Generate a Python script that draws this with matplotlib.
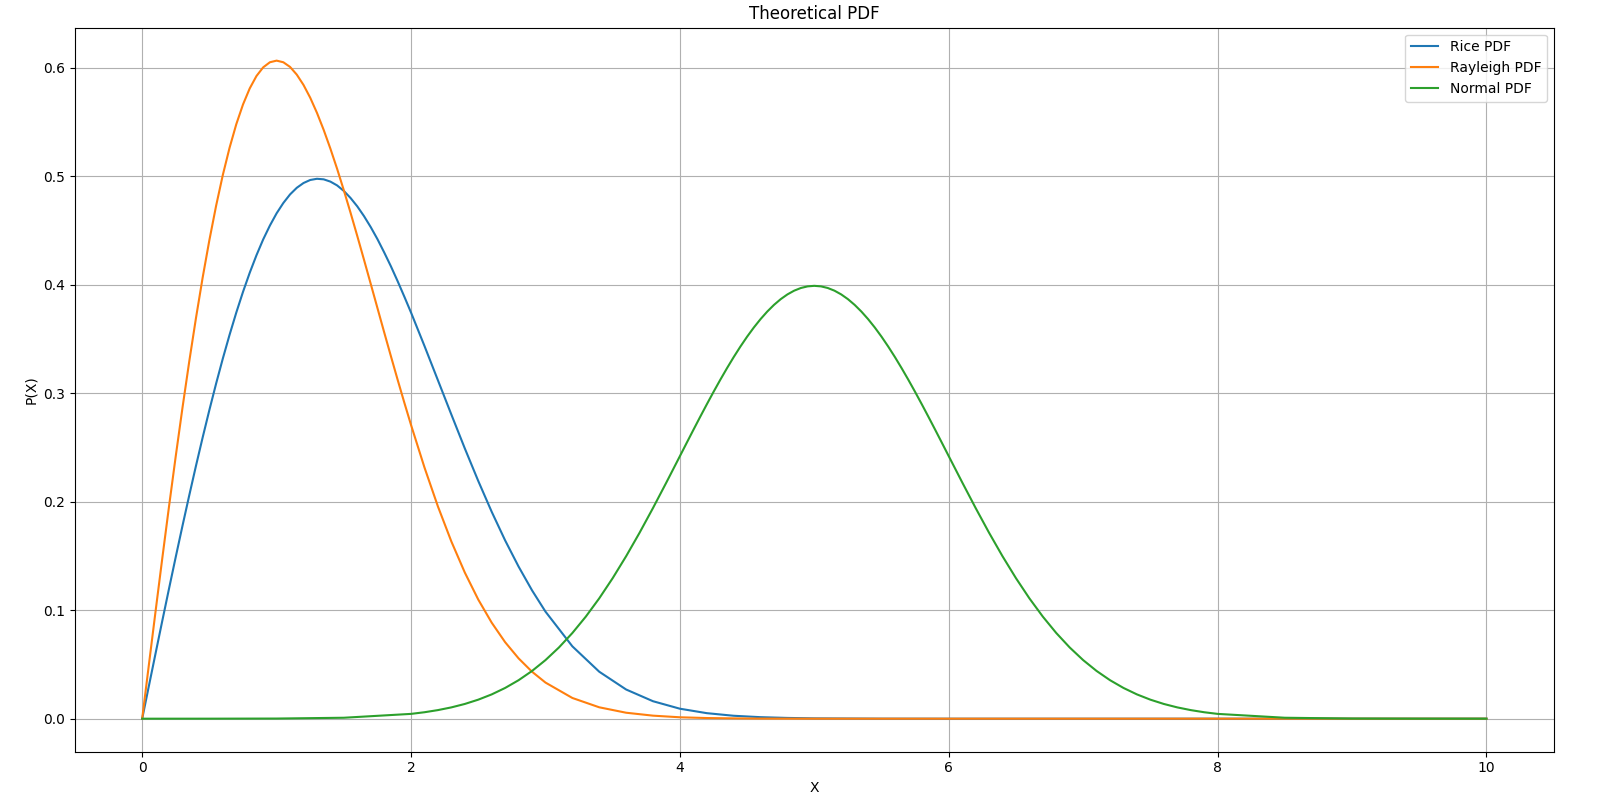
import numpy as np
import matplotlib
matplotlib.use('Agg')
import matplotlib.pyplot as plt

# sampled x positions for the Rice / Rayleigh curves
x_rr = ([round(0.05 * i, 2) for i in range(41)]
        + [2.1, 2.2, 2.3, 2.4, 2.5, 2.6, 2.7, 2.8, 2.9, 3.0,
           3.2, 3.4, 3.6, 3.8, 4.0, 4.2, 4.4, 4.6, 4.8, 5.0,
           5.5, 6.0, 7.0, 8.0, 9.0, 10.0])

rice_pdf = [0.0, 0.0303, 0.0605, 0.0905, 0.1201, 0.1493, 0.1779, 0.2058, 0.2330, 0.2593,
            0.2846, 0.3089, 0.3320, 0.3538, 0.3743, 0.3934, 0.4110, 0.4271, 0.4417, 0.4545,
            0.4658, 0.4753, 0.4832, 0.4893, 0.4937, 0.4965, 0.4976, 0.4971, 0.4950, 0.4915,
            0.4864, 0.4799, 0.4722, 0.4632, 0.4531, 0.4420, 0.4298, 0.4170, 0.4033, 0.3890,
            0.3743,
            0.3435, 0.3119, 0.2803, 0.2491, 0.2191, 0.1907, 0.1643, 0.1402, 0.1183, 0.0987,
            0.0667, 0.0433, 0.0269, 0.0161, 0.0092, 0.0051, 0.0027, 0.0014, 0.0007, 0.0003,
            0.00004, 0.0, 0.0, 0.0, 0.0, 0.0]

rayleigh_pdf = [0.0, 0.0499, 0.0995, 0.1483, 0.1960, 0.2423, 0.2868, 0.3292, 0.3692, 0.4067,
                0.4412, 0.4728, 0.5012, 0.5262, 0.5479, 0.5661, 0.5809, 0.5923, 0.6003, 0.6050,
                0.6065, 0.6050, 0.6007, 0.5936, 0.5841, 0.5723, 0.5584, 0.5427, 0.5254, 0.5068,
                0.4870, 0.4663, 0.4449, 0.4230, 0.4008, 0.3785, 0.3562, 0.3342, 0.3125, 0.2913,
                0.2707,
                0.2315, 0.1956, 0.1633, 0.1347, 0.1098, 0.0885, 0.0705, 0.0556, 0.0433, 0.0333,
                0.0191, 0.0105, 0.0055, 0.0028, 0.0013, 0.0006, 0.0003, 0.0001, 0.00005, 0.00002,
                0.0, 0.0, 0.0, 0.0, 0.0, 0.0]

# sampled x positions for the normal curve
x_norm = ([0.0, 0.5, 1.0, 1.5]
          + [round(2.0 + 0.1 * i, 1) for i in range(20)]
          + [round(4.0 + 0.05 * i, 2) for i in range(41)]
          + [round(6.1 + 0.1 * i, 1) for i in range(20)]
          + [8.5, 9.0, 9.5, 10.0])

normal_tail = [0.00443, 0.00595, 0.00792, 0.01042, 0.01358, 0.01753, 0.02239, 0.02833, 0.03547, 0.04398,
               0.05399, 0.06562, 0.07895, 0.09405, 0.11092, 0.12952, 0.14973, 0.17137, 0.19419, 0.21785]
normal_core = [0.24197, 0.25406, 0.26609, 0.27799, 0.28969, 0.30114, 0.31225, 0.32296, 0.33322, 0.34294,
               0.35207, 0.36053, 0.36827, 0.37524, 0.38139, 0.38667, 0.39104, 0.39448, 0.39695, 0.39844]
normal_pdf = ([0.0, 0.00002, 0.00013, 0.00087] + normal_tail + normal_core + [0.39894]
              + normal_core[::-1] + normal_tail[::-1] + [0.00087, 0.00013, 0.00002, 0.0])

fig, ax = plt.subplots(figsize=(16.09, 8.06), dpi=100)
fig.subplots_adjust(left=0.0466, right=0.9656, top=0.9656, bottom=0.0675)

ax.plot(x_rr, rice_pdf, label='Rice PDF')
ax.plot(x_rr, rayleigh_pdf, label='Rayleigh PDF')
ax.plot(x_norm, normal_pdf, label='Normal PDF')

ax.set_title('Theoretical PDF')
ax.set_xlabel('X')
ax.set_ylabel('P(X)')
ax.legend(loc='upper right')
ax.grid(True)

plt.savefig('out.png', dpi=100)
